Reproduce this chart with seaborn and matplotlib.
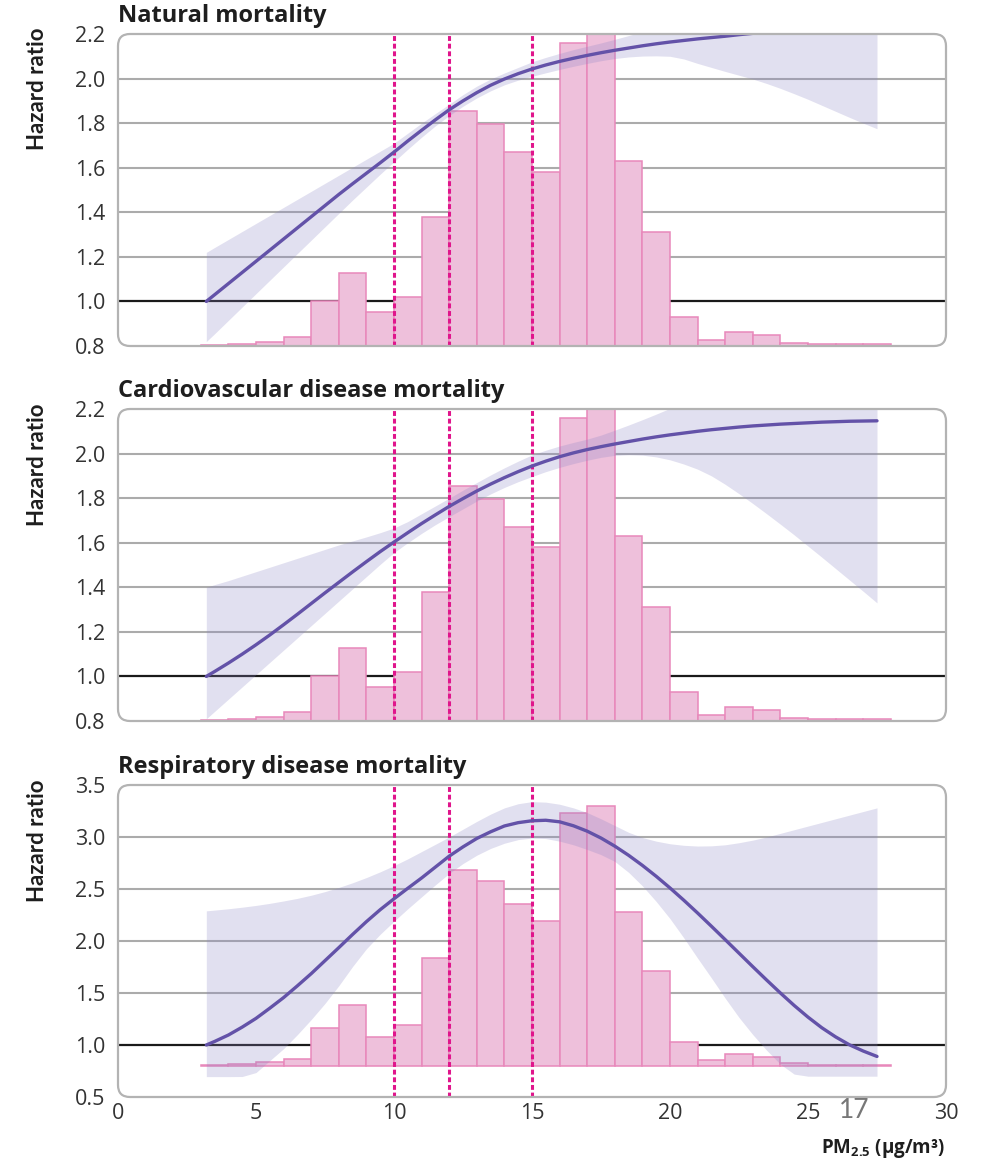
import matplotlib
matplotlib.use("Agg")
import matplotlib.pyplot as plt
from matplotlib.patches import FancyBboxPatch
import seaborn as sns

# ---------------------------------------------------------------------------
# Data
# ---------------------------------------------------------------------------
# PM2.5 exposure distribution: share of participants per 1 µg/m³ bin (%)
bin_edges = list(range(3, 29))
bin_share = [0.05, 0.1, 0.2, 0.4, 2.1, 3.4, 1.6, 2.3, 6.0, 10.9, 10.3, 9.0, 8.1,
             14.1, 14.5, 8.6, 5.3, 1.35, 0.3, 0.65, 0.5, 0.15, 0.07, 0.07, 0.07]

# Exposure values at which the spline estimates are reported (µg/m³)
pm_grid = [3.2, 3.5, 4.0, 4.5, 5.0, 5.5, 6.0, 6.5, 7.0, 7.5, 8.0, 8.5, 9.0, 9.5,
           10.0, 10.5, 11.0, 11.5, 12.0, 12.5, 13.0, 13.5, 14.0, 14.5, 15.0,
           15.5, 16.0, 16.5, 17.0, 17.5, 18.0, 18.5, 19.0, 19.5, 20.0, 20.5,
           21.0, 21.5, 22.0, 22.5, 23.0, 23.5, 24.0, 24.5, 25.0, 25.5, 26.0,
           26.5, 27.0, 27.5]

# Natural mortality: hazard ratio with 95% confidence limits
natural_hr = [1.00, 1.03, 1.08, 1.13, 1.18, 1.23, 1.28, 1.33, 1.38, 1.43, 1.48,
              1.528, 1.575, 1.622, 1.67, 1.72, 1.768, 1.815, 1.86, 1.90, 1.937,
              1.97, 1.998, 2.022, 2.043, 2.061, 2.077, 2.091, 2.104, 2.116,
              2.127, 2.137, 2.147, 2.156, 2.164, 2.171, 2.178, 2.184, 2.19,
              2.197, 2.203, 2.209, 2.214, 2.219, 2.224, 2.229, 2.234, 2.239,
              2.244, 2.249]
natural_lo = [0.82, 0.855, 0.915, 0.975, 1.035, 1.095, 1.155, 1.215, 1.275,
              1.335, 1.395, 1.455, 1.513, 1.571, 1.627, 1.683, 1.737, 1.788,
              1.834, 1.876, 1.913, 1.945, 1.972, 1.993, 2.010, 2.026, 2.041,
              2.055, 2.068, 2.080, 2.090, 2.097, 2.101, 2.102, 2.100, 2.088,
              2.068, 2.050, 2.032, 2.015, 1.998, 1.978, 1.956, 1.932, 1.907,
              1.880, 1.853, 1.826, 1.800, 1.775]
natural_hi = [1.22, 1.242, 1.278, 1.314, 1.35, 1.386, 1.422, 1.458, 1.494, 1.53,
              1.566, 1.602, 1.638, 1.674, 1.71, 1.755, 1.80, 1.843, 1.885,
              1.928, 1.966, 1.998, 2.025, 2.05, 2.075, 2.095, 2.113, 2.13, 2.145,
              2.16, 2.176, 2.193, 2.21, 2.228, 2.247, 2.266, 2.285, 2.305, 2.325,
              2.345, 2.365, 2.385, 2.405, 2.425, 2.445, 2.465, 2.485, 2.505,
              2.525, 2.545]

# Cardiovascular disease mortality
cvd_hr = [1.00, 1.022, 1.06, 1.10, 1.142, 1.186, 1.232, 1.279, 1.327, 1.375,
          1.422, 1.469, 1.515, 1.56, 1.603, 1.645, 1.686, 1.725, 1.763, 1.798,
          1.832, 1.863, 1.892, 1.919, 1.944, 1.966, 1.986, 2.003, 2.018, 2.031,
          2.043, 2.054, 2.065, 2.075, 2.084, 2.092, 2.10, 2.107, 2.113, 2.119,
          2.124, 2.128, 2.132, 2.135, 2.138, 2.141, 2.143, 2.145, 2.146, 2.147]
cvd_lo = [0.81, 0.843, 0.898, 0.953, 1.008, 1.063, 1.118, 1.173, 1.228, 1.283,
          1.338, 1.393, 1.448, 1.503, 1.556, 1.60, 1.642, 1.681, 1.717, 1.752,
          1.787, 1.819, 1.848, 1.874, 1.897, 1.919, 1.938, 1.955, 1.970, 1.983,
          1.992, 1.995, 1.993, 1.985, 1.972, 1.953, 1.930, 1.900, 1.862, 1.820,
          1.776, 1.730, 1.683, 1.635, 1.585, 1.535, 1.484, 1.433, 1.382, 1.33]
cvd_hi = [1.40, 1.412, 1.43, 1.45, 1.47, 1.49, 1.51, 1.53, 1.55, 1.57, 1.59,
          1.608, 1.626, 1.645, 1.666, 1.695, 1.73, 1.765, 1.80, 1.836, 1.87,
          1.904, 1.936, 1.966, 1.994, 2.015, 2.034, 2.05, 2.065, 2.083, 2.105,
          2.128, 2.152, 2.177, 2.203, 2.23, 2.258, 2.287, 2.317, 2.348, 2.38,
          2.412, 2.445, 2.478, 2.512, 2.546, 2.58, 2.614, 2.648, 2.682]

# Respiratory disease mortality
resp_hr = [1.00, 1.034, 1.096, 1.172, 1.256, 1.354, 1.456, 1.569, 1.686, 1.811,
           1.936, 2.063, 2.186, 2.301, 2.406, 2.507, 2.606, 2.711, 2.816,
           2.905, 2.986, 3.05, 3.106, 3.138, 3.156, 3.161, 3.146, 3.108, 3.056,
           2.99, 2.912, 2.824, 2.727, 2.622, 2.51, 2.392, 2.269, 2.142, 2.013,
           1.883, 1.753, 1.625, 1.50, 1.38, 1.268, 1.166, 1.078, 1.002, 0.942,
           0.89]
resp_lo = [0.696, 0.696, 0.696, 0.697, 0.735, 0.85, 0.965, 1.10, 1.245, 1.40,
           1.57, 1.755, 1.925, 2.065, 2.19, 2.31, 2.425, 2.54, 2.65, 2.745,
           2.825, 2.89, 2.94, 2.975, 2.99, 2.985, 2.96, 2.925, 2.88, 2.83,
           2.765, 2.66, 2.53, 2.38, 2.215, 2.03, 1.835, 1.645, 1.45, 1.265,
           1.10, 0.95, 0.815, 0.72, 0.70, 0.70, 0.70, 0.70, 0.70, 0.70]
resp_hi = [2.29, 2.297, 2.31, 2.325, 2.342, 2.362, 2.385, 2.41, 2.44, 2.475,
           2.515, 2.56, 2.61, 2.665, 2.725, 2.79, 2.86, 2.93, 3.0, 3.075, 3.15,
           3.22, 3.28, 3.32, 3.34, 3.335, 3.315, 3.28, 3.235, 3.175, 3.11,
           3.045, 2.995, 2.96, 2.935, 2.92, 2.913, 2.915, 2.925, 2.945, 2.97,
           3.0, 3.035, 3.07, 3.105, 3.14, 3.175, 3.21, 3.245, 3.28]

# Air quality reference values (µg/m³)
reference_levels = [10, 12, 15]

panel_titles = ["Natural mortality", "Cardiovascular disease mortality",
                "Respiratory disease mortality"]
panel_yticks = [[0.8, 1.0, 1.2, 1.4, 1.6, 1.8, 2.0, 2.2],
                [0.8, 1.0, 1.2, 1.4, 1.6, 1.8, 2.0, 2.2],
                [0.5, 1.0, 1.5, 2.0, 2.5, 3.0, 3.5]]
panel_ytick_labels = [["0.8", "1.0", "1.2", "1.4", "1.6", "1.8", "2.0", "2.2"],
                      ["0.8", "1.0", "1.2", "1.4", "1.6", "1.8", "2.0", "2.2"],
                      ["0.5", "1.0", "1.5", "2.0", "2.5", "3.0", "3.5"]]
x_ticks = [0, 5, 10, 15, 20, 25, 30]
x_tick_labels = ["0", "5", "10", "15", "20", "25", "30"]

# ---------------------------------------------------------------------------
# Style
# ---------------------------------------------------------------------------
sns.set_style("white")
plt.rcParams["font.family"] = ["Open Sans", "DejaVu Sans"]
plt.rcParams["mathtext.fontset"] = "custom"
plt.rcParams["mathtext.rm"] = "Open Sans"
plt.rcParams["mathtext.bf"] = "Open Sans:bold"

CURVE = "#6352a8"
BAND = "#8a84c4"
BAR_FILL = "#eec0db"
BAR_EDGE = "#e888bb"
REF_LINE = "#e0158c"
GRID = "#ababab"
FRAME = "#b3b3b3"
TEXT = "#333333"
DARK = "#1e1e1e"

W, H = 986, 1162
fig = plt.figure(figsize=(W / 100, H / 100), dpi=100)

box_left, box_right = 118, 946
box_tops = [34, 409, 785]
box_h = 312

curves = [(natural_hr, natural_lo, natural_hi),
          (cvd_hr, cvd_lo, cvd_hi),
          (resp_hr, resp_lo, resp_hi)]
hist_base = 0.8
# hazard-ratio span taken by the tallest histogram bar in each panel
hist_span = [1.4, 1.4, 2.5]

bin_left = bin_edges[:-1]
bin_width = [b - a for a, b in zip(bin_edges[:-1], bin_edges[1:])]
max_share = max(bin_share)

for i in range(3):
    top = box_tops[i]
    ax = fig.add_axes([box_left / W, 1 - (top + box_h) / H,
                       (box_right - box_left) / W, box_h / H])
    yt = panel_yticks[i]
    ax.set_xlim(0, 30)
    ax.set_ylim(yt[0], yt[-1])
    ax.set_axisbelow(True)
    for s in ax.spines.values():
        s.set_visible(False)

    # horizontal reference grid (inner ticks only)
    for v in yt[1:-1]:
        if abs(v - 1.0) < 1e-9:
            ax.axhline(v, color="#1a1a1a", lw=1.6, zorder=1)
        else:
            ax.axhline(v, color=GRID, lw=1.5, zorder=1)

    # exposure histogram, standing on HR = 0.8
    heights = [s / max_share * hist_span[i] for s in bin_share]
    ax.bar(bin_left, heights, width=bin_width, bottom=hist_base, align="edge",
           color=BAR_FILL, edgecolor=BAR_EDGE, linewidth=1.1, zorder=2)

    hr, lo, hi = curves[i]
    ax.fill_between(pm_grid, lo, hi, color=BAND, alpha=0.25, lw=0, zorder=3)
    for r in reference_levels:
        ax.axvline(r, color=REF_LINE, lw=2.2, ls=(0, (1.6, 0.9)), zorder=4)
    sns.lineplot(x=pm_grid, y=hr, ax=ax, color=CURVE, lw=2.4, zorder=5,
                 sort=False, estimator=None)

    # rounded frame
    frame = FancyBboxPatch((0, 0), 1, 1,
                           boxstyle="round,pad=0,rounding_size=0.0145",
                           mutation_aspect=(box_right - box_left) / box_h,
                           transform=ax.transAxes, fill=False, ec=FRAME,
                           lw=1.6, clip_on=False, zorder=7)
    ax.add_patch(frame)

    ax.set_yticks(yt)
    ax.set_yticklabels(panel_ytick_labels[i])
    ax.tick_params(axis="y", length=0, pad=9, labelsize=15.5, labelcolor=TEXT)

    ax.set_xticks(x_ticks)
    ax.set_xticks(x_ticks[1:-1], minor=True)
    ax.tick_params(axis="x", which="major", length=0, pad=4, labelsize=15.5,
                   labelcolor=TEXT)
    ax.tick_params(axis="x", which="minor", direction="in", length=6,
                   width=1.5, color="#999999")
    if i == 2:
        ax.set_xticklabels(x_tick_labels)
    else:
        ax.set_xticklabels([])
    ax.set_xlabel("")
    ax.set_ylabel("")

    fig.text(box_left / W, 1 - (top - 12) / H, panel_titles[i],
             fontsize=17, fontweight="bold", color=DARK,
             ha="left", va="baseline")
    fig.text(37 / W, 1 - (top - 6) / H, "Hazard ratio", rotation=90,
             fontsize=16, fontweight="bold", color=DARK,
             ha="center", va="top", family=["Lato", "DejaVu Sans"])

fig.text(854 / W, 1 - 1111 / H, "17", fontsize=19, color="#777777",
         ha="center", va="center", family=["Lato", "DejaVu Sans"])
fig.text(945 / W, 1 - 1148 / H, r"PM$_{\mathbf{2.5}}$ (µg/m³)",
         fontsize=13.5, fontweight="bold", color=DARK,
         ha="right", va="center")

fig.savefig("out.png", dpi=100)
